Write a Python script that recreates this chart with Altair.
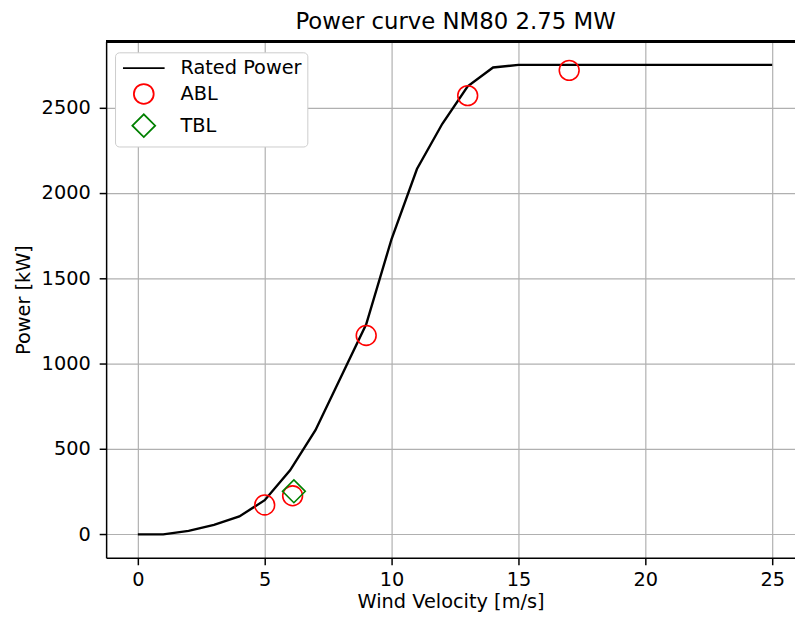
import altair as alt
import pandas as pd

# Rated power curve
wind_speed = list(range(26))
rated_power = [0, 0, 20, 55, 105, 200, 375, 610, 920, 1230, 1730, 2140, 2405, 2625,
               2735, 2750, 2750, 2750, 2750, 2750, 2750, 2750, 2750, 2750, 2750, 2750]

# Observations
obs_series = ["ABL", "ABL", "ABL", "ABL", "ABL", "TBL"]
obs_velocity = [5.0, 6.1, 9.0, 13.0, 17.0, 6.15]
obs_power = [172, 226, 1165, 2570, 2718, 252]

legend_names = ["Rated Power", "ABL", "TBL"]
legend_shapes = ["M-2.1,0L2.1,0", "circle", "M-1.15,0L0,-1.15L1.15,0L0,1.15Z"]
legend_colors = ["black", "red", "green"]

x_ticks = [0, 5, 10, 15, 20, 25]
y_ticks = [0, 500, 1000, 1500, 2000, 2500]

W, H = 695, 521
FS = 19.5

curve_df = pd.DataFrame({"v": wind_speed, "p": rated_power})
obs_df = pd.DataFrame({"series": obs_series, "v": obs_velocity, "p": obs_power})

xscale = alt.Scale(domain=[-1.25, 25.9], nice=False, zero=False)
yscale = alt.Scale(domain=[-137.5, 2887.5], nice=False, zero=False)

line = alt.Chart(curve_df).mark_line(color="black", strokeWidth=2.4).encode(
    x=alt.X("v:Q", scale=xscale, title="Wind Velocity [m/s]",
            axis=alt.Axis(values=x_ticks, grid=True, tickSize=7, labelPadding=6,
                          titlePadding=4, format="d")),
    y=alt.Y("p:Q", scale=yscale, title="Power [kW]",
            axis=alt.Axis(values=y_ticks, grid=True, tickSize=7, labelPadding=9,
                          titlePadding=8, format="d")),
)

# top spine of the axes frame
top_spine = alt.Chart(curve_df).mark_rule(color="black", strokeWidth=1.5).encode(
    x=alt.value(0), x2=alt.value(W), y=alt.value(0)
)

pts = alt.Chart(obs_df).mark_point(filled=False, strokeWidth=1.6, opacity=1, size=400).encode(
    x=alt.X("v:Q", scale=xscale),
    y=alt.Y("p:Q", scale=yscale),
    color=alt.Color("series:N", scale=alt.Scale(domain=legend_names, range=legend_colors),
                    title=None,
                    legend=alt.Legend(orient="none", legendX=9, legendY=11)),
    shape=alt.Shape("series:N", scale=alt.Scale(domain=legend_names, range=legend_shapes),
                    title=None,
                    legend=alt.Legend(orient="none", legendX=9, legendY=11)),
)

chart = alt.layer(line, pts, top_spine).properties(
    width=W,
    height=H,
    autosize="none",
    padding={"left": 99, "top": 31, "right": 0, "bottom": 58},
    title=alt.TitleParams("Power curve NM80 2.75 MW", fontSize=23, fontWeight="normal",
                          offset=7, dx=5, color="black"),
).configure(
    font="DejaVu Sans",
).configure_view(
    stroke=None,
).configure_axis(
    domainColor="black",
    domainWidth=1.5,
    tickColor="black",
    tickWidth=1.5,
    gridColor="#b0b0b0",
    gridWidth=1.2,
    labelFontSize=FS,
    titleFontSize=FS,
    titleFontWeight="normal",
    labelColor="black",
    titleColor="black",
).configure_legend(
    fillColor="white",
    strokeColor="#cccccc",
    cornerRadius=4,
    padding=5,
    labelFontSize=FS,
    labelColor="black",
    labelOffset=26,
    symbolOffset=13,
    symbolSize=400,
    rowPadding=2,
    symbolStrokeWidth=1.8,
    symbolOpacity=1,
)

chart.save("out.html", embed_options={"renderer": "svg", "actions": False})
